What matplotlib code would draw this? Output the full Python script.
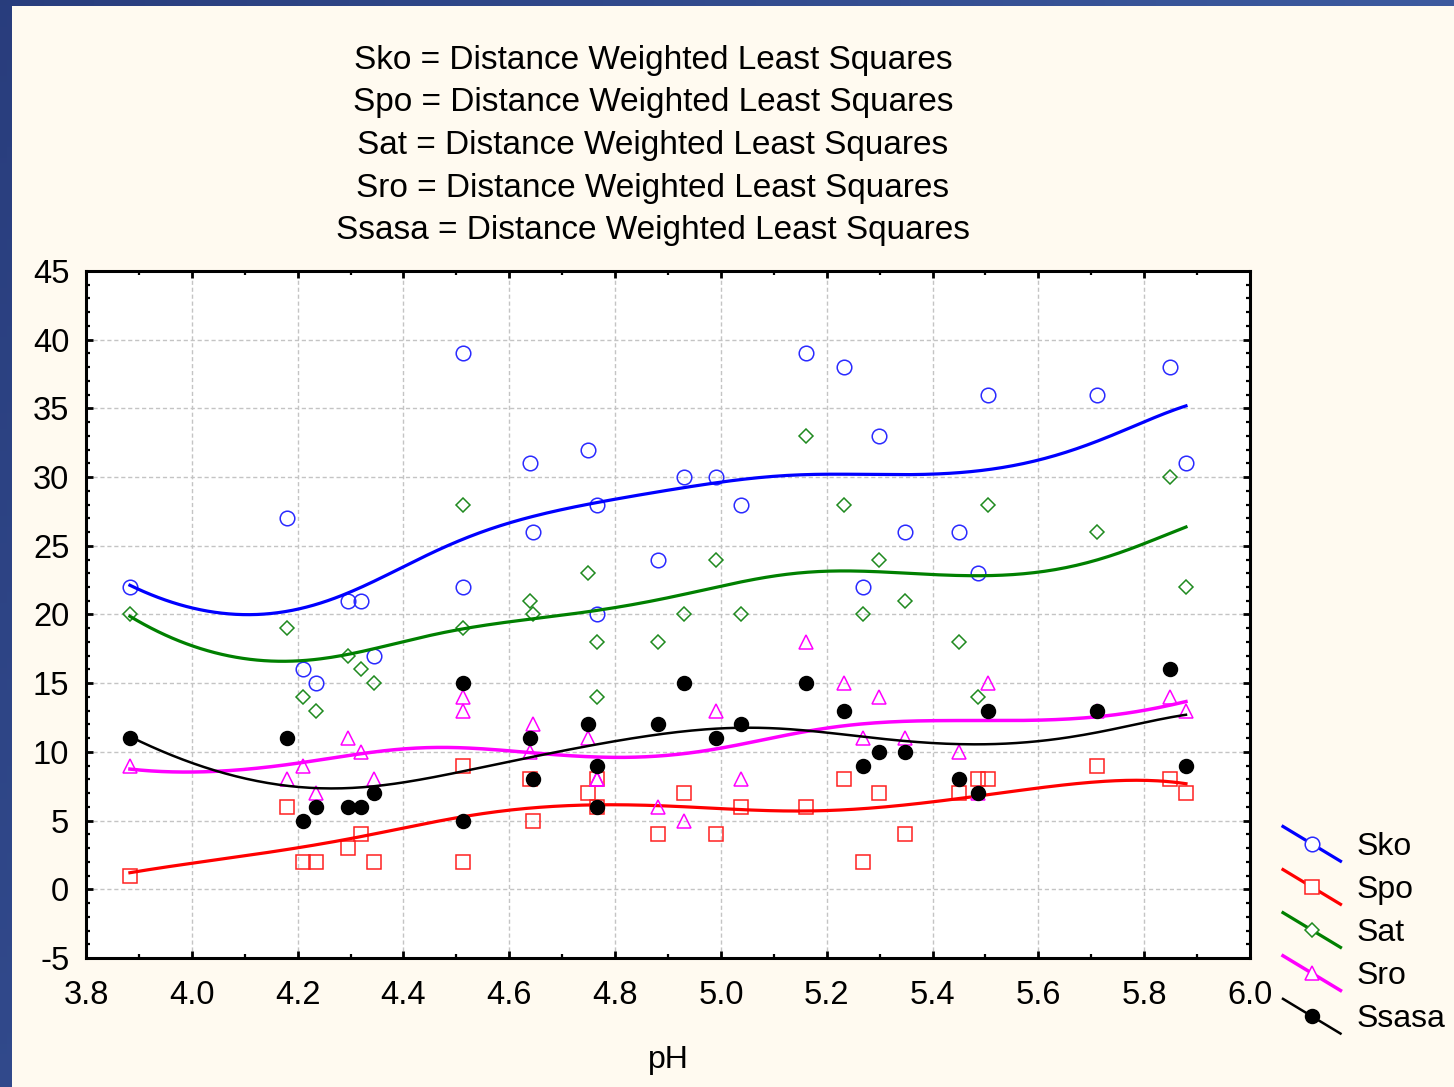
import numpy as np
import matplotlib
matplotlib.use('Agg')
import matplotlib.pyplot as plt
from matplotlib.legend_handler import HandlerLine2D
from matplotlib.patches import Rectangle
from matplotlib.ticker import MultipleLocator

plt.rcParams['font.family'] = ['Liberation Sans', 'DejaVu Sans']
plt.rcParams['axes.unicode_minus'] = False

# one entry per soil sample
ph = [3.883, 4.18, 4.21, 4.235, 4.295, 4.32, 4.344, 4.513, 4.513, 4.639,
      4.645, 4.749, 4.766, 4.766, 4.881, 4.93, 4.991, 5.038, 5.161, 5.233,
      5.268, 5.299, 5.348, 5.45, 5.486, 5.505, 5.711, 5.849, 5.879]
sko = [22, 27, 16, 15, 21, 21, 17, 39, 22, 31, 26, 32, 28, 20, 24,
       30, 30, 28, 39, 38, 22, 33, 26, 26, 23, 36, 36, 38, 31]
spo = [1, 6, 2, 2, 3, 4, 2, 9, 2, 8, 5, 7, 8, 6, 4,
       7, 4, 6, 6, 8, 2, 7, 4, 7, 8, 8, 9, 8, 7]
sat = [20, 19, 14, 13, 17, 16, 15, 28, 19, 21, 20, 23, 18, 14, 18,
       20, 24, 20, 33, 28, 20, 24, 21, 18, 14, 28, 26, 30, 22]
sro = [9, 8, 9, 7, 11, 10, 8, 14, 13, 10, 12, 11, 8, 8, 6,
       5, 13, 8, 18, 15, 11, 14, 11, 10, 7, 15, 13, 14, 13]
ssasa = [11, 11, 5, 6, 6, 6, 7, 15, 5, 11, 8, 12, 9, 6, 12,
         15, 11, 12, 15, 13, 9, 10, 10, 8, 7, 13, 13, 16, 9]

names = ['Sko', 'Spo', 'Sat', 'Sro', 'Ssasa']
xticks = [3.8, 4.0, 4.2, 4.4, 4.6, 4.8, 5.0, 5.2, 5.4, 5.6, 5.8, 6.0]
yticks = [-5, 0, 5, 10, 15, 20, 25, 30, 35, 40, 45]

styles = {
    'Sko':   dict(line='#0000ff', lw=2.3, marker='o', ms=10.5, mfc='none', mec='#2a2aff'),
    'Spo':   dict(line='#ff0000', lw=2.3, marker='s', ms=10.0, mfc='none', mec='#ff2020'),
    'Sat':   dict(line='#008000', lw=2.3, marker='D', ms=6.8, mfc='none', mec='#1f8a1f'),
    'Sro':   dict(line='#ff00ff', lw=2.5, marker='^', ms=10.5, mfc='none', mec='#ff00ff'),
    'Ssasa': dict(line='#000000', lw=1.8, marker='o', ms=10.0, mfc='#000000', mec='#000000'),
}


def dwls(x, y, grid, h=0.3):
    # distance weighted local quadratic fit, evaluated on grid
    x = np.asarray(x, float)
    y = np.asarray(y, float)
    out = []
    for g in grid:
        w = np.exp(-0.5 * ((x - g) / h) ** 2)
        c = np.polyfit(x - g, y, 2, w=np.sqrt(w))
        out.append(c[-1])
    return np.array(out)


class DiagonalHandler(HandlerLine2D):
    def create_artists(self, legend, orig_handle, xdescent, ydescent,
                       width, height, fontsize, trans):
        arts = super().create_artists(legend, orig_handle, xdescent, ydescent,
                                      width, height, fontsize, trans)
        x0, x1 = -xdescent, -xdescent + width
        yc = (height - ydescent) / 2
        a = 12.5
        for art in arts:
            xd = np.asarray(art.get_xdata(), float)
            art.set_ydata(yc + a - (xd - x0) / (x1 - x0) * 2 * a)
        return arts


fig = plt.figure(figsize=(14.54, 10.87), dpi=100)

# blue frame behind the cream page
bg = fig.add_axes([0, 0, 1, 1], zorder=-10)
gx, gy = np.meshgrid(np.linspace(0, 1, 200), np.linspace(0, 1, 200))
c0 = np.array([0.16, 0.24, 0.49])
c1 = np.array([0.27, 0.40, 0.68])
grad = c0 + (c1 - c0) * (0.7 * gx + 0.3 * gy)[..., None]
bg.imshow(grad, extent=[0, 1, 0, 1], aspect='auto', origin='upper')
bg.set_axis_off()
fig.patches.append(Rectangle((12 / 1454, 0), 1, 1 - 6 / 1087, transform=fig.transFigure,
                             facecolor='#fffaf0', edgecolor='none', zorder=-5))

ax = fig.add_axes([86 / 1454, 129 / 1087, 1164 / 1454, 687 / 1087])
ax.set_facecolor('white')

data = {'Sko': sko, 'Spo': spo, 'Sat': sat, 'Sro': sro, 'Ssasa': ssasa}
grid = np.linspace(min(ph), max(ph), 300)
handles = []
for i, name in enumerate(names):
    st = styles[name]
    ax.plot(ph, data[name], linestyle='none', marker=st['marker'], ms=st['ms'],
            mfc=st['mfc'], mec=st['mec'], mew=1.1, zorder=3 + 2 * i, clip_on=False)
    ax.plot(grid, dwls(ph, data[name], grid), color=st['line'], lw=st['lw'],
            zorder=4 + 2 * i)
    h, = ax.plot([], [], color=st['line'], lw=st['lw'], marker=st['marker'],
                 ms=st['ms'], mfc=st['mfc'] if st['mfc'] != 'none' else 'white',
                 mec=st['mec'], mew=1.1)
    handles.append(h)

ax.set_xlim(3.8, 6.0)
ax.set_ylim(-5, 45)
ax.set_xticks(xticks)
ax.set_xticklabels(['%.1f' % t for t in xticks])
ax.set_yticks(yticks)
ax.xaxis.set_minor_locator(MultipleLocator(0.1))
ax.yaxis.set_minor_locator(MultipleLocator(1))
ax.tick_params(which='both', direction='in', top=True, right=True, labelsize=23.5)
ax.tick_params(which='major', length=5, width=2)
ax.tick_params(which='minor', length=3, width=1.6)
ax.tick_params(axis='y', pad=12)
ax.tick_params(axis='x', pad=16)
for sp in ax.spines.values():
    sp.set_linewidth(2.2)
ax.grid(True, which='major', color='#c4c4c4', linestyle=(0, (3, 2)), lw=1)
ax.set_axisbelow(True)
ax.set_xlabel('pH', fontsize=23, labelpad=24)

for k, name in enumerate(names):
    fig.text(653 / 1454, 1 - (60 + 42.7 * k) / 1087,
             '%s = Distance Weighted Least Squares' % name,
             ha='center', va='center', fontsize=24)

fig.legend(handles, names, loc='upper left', bbox_to_anchor=(1283 / 1454, 1 - 832 / 1087),
           frameon=False, fontsize=23, handlelength=1.8, handletextpad=0.5,
           labelspacing=0.41, borderpad=0, borderaxespad=0,
           handler_map={h: DiagonalHandler(numpoints=1) for h in handles})

fig.savefig('out.png', dpi=100, facecolor=fig.get_facecolor())
